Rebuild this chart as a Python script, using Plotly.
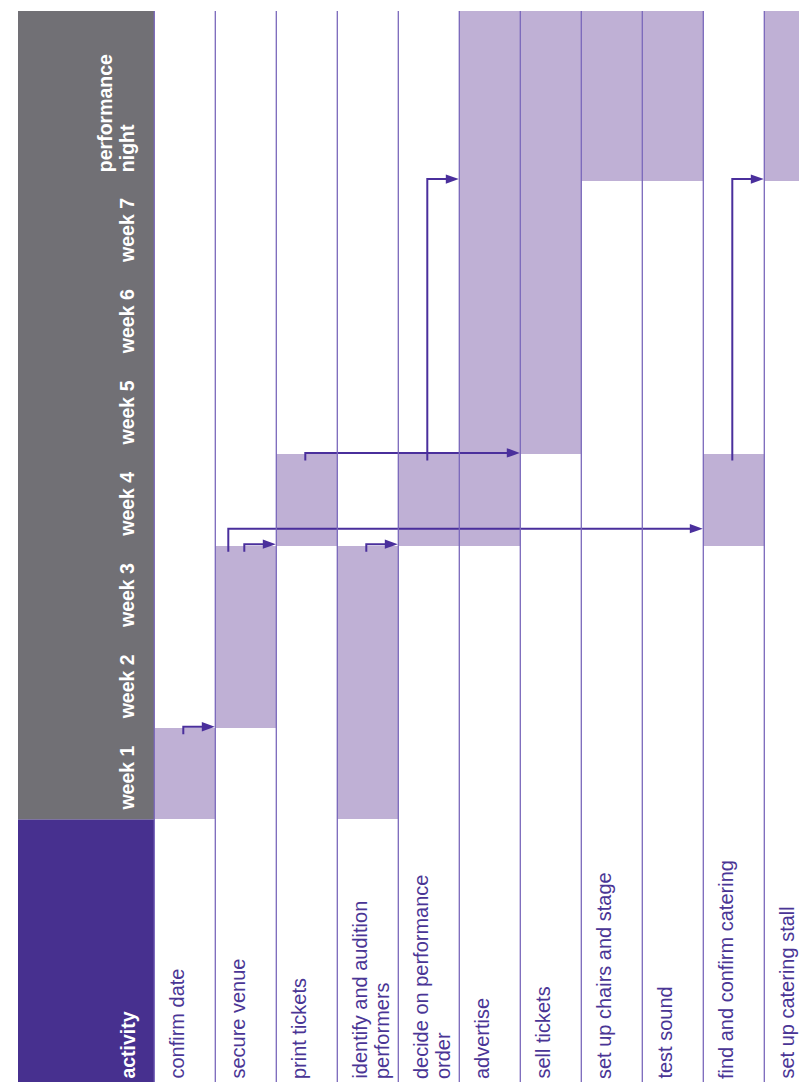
import plotly.graph_objects as go

# ---------------- data ----------------
activities = [
    "confirm date",
    "secure venue",
    "print tickets",
    "identify and audition<br>performers",
    "decide on performance<br>order",
    "advertise",
    "sell tickets",
    "set up chairs and stage",
    "test sound",
    "find and confirm catering",
    "set up catering stall",
]
periods = ["week 1", "week 2", "week 3", "week 4", "week 5", "week 6", "week 7",
           "performance<br>night"]
start_period = ["week 1", "week 2", "week 4", "week 1", "week 4", "week 4", "week 5",
                "performance<br>night", "performance<br>night", "week 4",
                "performance<br>night"]
end_period = ["week 1", "week 3", "week 4", "week 3", "week 4",
              "performance<br>night", "performance<br>night", "performance<br>night",
              "performance<br>night", "week 4", "performance<br>night"]

dep_from = ["confirm date", "secure venue", "secure venue",
            "identify and audition<br>performers", "print tickets",
            "decide on performance<br>order", "find and confirm catering"]
dep_to = ["secure venue", "print tickets", "find and confirm catering",
          "decide on performance<br>order", "sell tickets", "advertise",
          "set up catering stall"]
dep_enter = ["week 2", "week 4", "week 4", "week 4", "week 5",
             "performance<br>night", "performance<br>night"]

# ---------------- layout constants ----------------
W, H = 807, 1082
BODY = 8                 # default page margin of the html body
PLOT_LEFT, PLOT_TOP = 18, 11   # wanted page position of the plot area
ML, MT = PLOT_LEFT - BODY, PLOT_TOP - BODY
COL_PX = 61.0
ROW_PX = 91.27
HEADER_PX = 136.3
PN_ROWS = 1.858

GREY = "#717075"
HEAD_PURPLE = "#47308f"
BAR = "#bfb0d5"
LABEL = "#4a3595"
CON = "#4a2f9c"
GRID = "#7a68bb"
FONT = "Liberation Sans, Arial, Helvetica, sans-serif"
FS = 19.5
FS_LABEL = 20
LINE_PX = 22

plot_w = W - ML
plot_h = H - MT
x0 = -0.5 - HEADER_PX / COL_PX
x1 = x0 + plot_w / COL_PX
y_top = (len(periods) - 1) + PN_ROWS
y_bot = y_top - plot_h / ROW_PX
y_vis = y_top - (H - PLOT_TOP) / ROW_PX   # bottom edge of the visible window

pidx = {p: i for i, p in enumerate(periods)}
bounds = list(range(len(periods))) + [y_top]
aidx = {a: i for i, a in enumerate(activities)}

base = [bounds[pidx[s]] for s in start_period]
top = [bounds[pidx[e] + 1] for e in end_period]

fig = go.Figure()

# bars
fig.add_trace(go.Bar(
    x=list(range(len(activities))),
    y=[t - b for t, b in zip(top, base)],
    base=base,
    width=1,
    marker=dict(color=BAR, line=dict(width=0)),
    hoverinfo="skip",
))

shapes = []
# header backgrounds
shapes.append(dict(type="rect", xref="x", yref="y", x0=x0, x1=-0.5, y0=0, y1=y_top,
                   fillcolor=GREY, line=dict(width=0), layer="below"))
shapes.append(dict(type="rect", xref="x", yref="y", x0=x0, x1=-0.5, y0=y_bot, y1=0,
                   fillcolor=HEAD_PURPLE, line=dict(width=0), layer="below"))

# connectors
cx, cy = [], []
used = {}
for src, tgt, ent in zip(dep_from, dep_to, dep_enter):
    s, t = aidx[src], aidx[tgt]
    lane = used.get(src, 0)
    used[src] = lane + 1
    off_px = -1.5 if lane == 0 else -17.5
    rise_px = 1.5 if lane == 0 else 17.0
    sx = s + off_px / COL_PX
    ys = top[s] - 6 / ROW_PX
    yh = bounds[pidx[ent]] + rise_px / ROW_PX
    tip = t - 0.5 - 0.5 / COL_PX
    back = tip - 13 / COL_PX
    cx += [sx, sx, back + 0.02, None]
    cy += [ys, yh, yh, None]
    hh = 4.7 / ROW_PX
    shapes.append(dict(type="path", xref="x", yref="y",
                       path=f"M{tip},{yh} L{back},{yh + hh} L{back},{yh - hh} Z",
                       fillcolor=CON, line=dict(width=0), layer="above"))

fig.add_trace(go.Scatter(x=cx, y=cy, mode="lines", line=dict(color=CON, width=2),
                         hoverinfo="skip"))

# column separators
for k in range(len(activities) + 1):
    xv = k - 0.5
    shapes.append(dict(type="line", xref="x", yref="y", x0=xv, x1=xv, y0=y_bot, y1=y_top,
                       line=dict(color=GRID, width=1.3), layer="above"))

annotations = []
# period header labels (bottom aligned, last line nearest the edge)
for p, lab in enumerate(periods):
    lines = lab.split("<br>")
    nl = len(lines)
    for j, ln in enumerate(lines):
        annotations.append(dict(
            x=-0.5, y=bounds[p], xref="x", yref="y", text=ln, showarrow=False,
            textangle=-90, xanchor="right", yanchor="bottom",
            xshift=-14.2 - (nl - 1 - j) * LINE_PX, yshift=6.5,
            font=dict(family=FONT, size=FS, color="white", weight="bold")))

annotations.append(dict(
    x=-0.5, y=y_vis, xref="x", yref="y", text="activity", showarrow=False,
    textangle=-90, xanchor="right", yanchor="bottom", xshift=-14.2, yshift=1,
    font=dict(family=FONT, size=FS, color="white", weight="bold")))

# activity labels (top aligned -> left in rotated frame)
for i, lab in enumerate(activities):
    for j, ln in enumerate(lab.split("<br>")):
        annotations.append(dict(
            x=i - 0.5, y=y_vis, xref="x", yref="y", text=ln, showarrow=False,
            textangle=-90, xanchor="left", yanchor="bottom",
            xshift=9.3 + j * LINE_PX, yshift=1,
            font=dict(family=FONT, size=FS_LABEL, color=LABEL)))

fig.update_layout(
    width=W, height=H,
    margin=dict(l=ML, r=0, t=MT, b=0, pad=0),
    paper_bgcolor="white", plot_bgcolor="white",
    showlegend=False,
    xaxis=dict(range=[x0, x1], visible=False, fixedrange=True),
    yaxis=dict(range=[y_bot, y_top], visible=False, fixedrange=True),
    shapes=shapes, annotations=annotations,
    bargap=0,
)

fig.write_html("out.html")
